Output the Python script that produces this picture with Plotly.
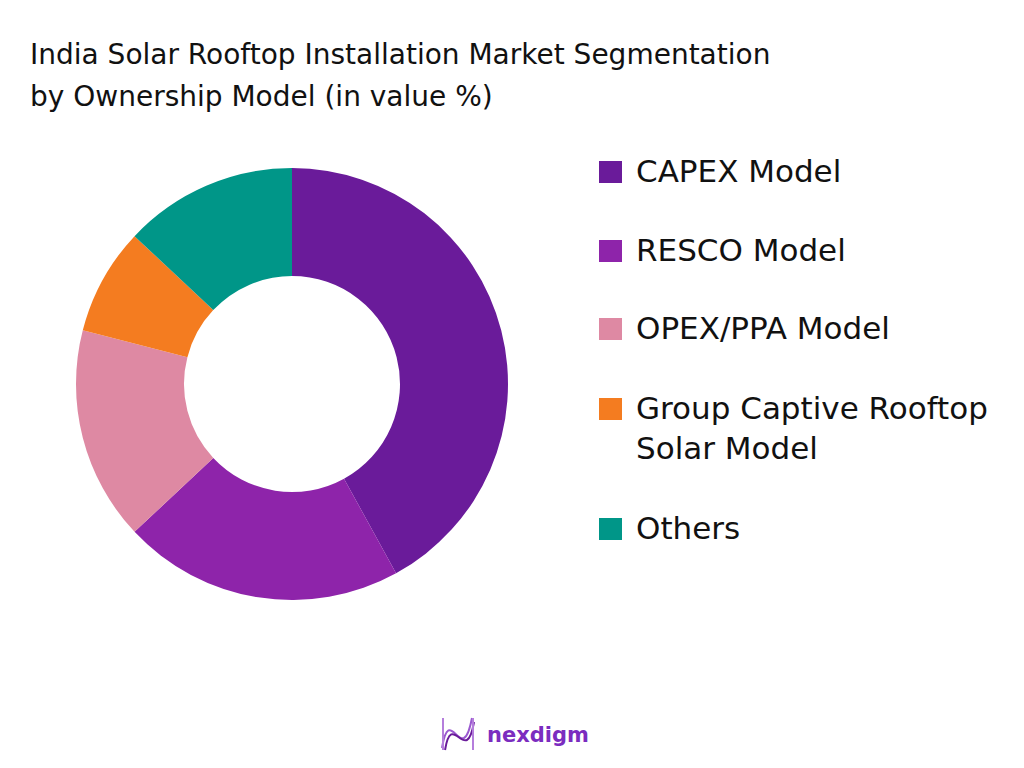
import plotly.graph_objects as go

# Ownership model shares (value %)
segments = ["CAPEX Model", "RESCO Model", "OPEX/PPA Model",
            "Group Captive Rooftop Solar Model", "Others"]
legend_labels = ["CAPEX Model", "RESCO Model", "OPEX/PPA Model",
                 "Group Captive Rooftop<br>Solar Model", "Others"]
shares = [42, 21, 16, 8, 13]
colors = ["#6a1b9a", "#8e24aa", "#de89a3", "#f47c20", "#009688"]

W, H = 1024, 768
OFF = 8  # page body margin pushes everything by 8px
FONT = "DejaVu Sans"


def px(x):
    return (x - OFF) / W


def py(y):
    return 1 - (y - OFF) / H


fig = go.Figure()

fig.add_trace(go.Pie(
    labels=segments,
    values=shares,
    marker=dict(colors=colors, line=dict(width=0)),
    hole=0.5,
    sort=False,
    direction="clockwise",
    rotation=0,
    textinfo="none",
    showlegend=False,
    domain=dict(x=[px(76), px(508)], y=[py(600), py(168)]),
))

# hand-made legend so square size and spacing match the picture
legend_y = [172, 251, 329, 409, 529]
shapes = []
annotations = []
for lab, col, yc in zip(legend_labels, colors, legend_y):
    shapes.append(dict(
        type="rect", xref="paper", yref="paper",
        x0=px(599), x1=px(622),
        y0=py(yc + 11), y1=py(yc - 11),
        fillcolor=col, line=dict(width=0),
    ))
    annotations.append(dict(
        text=lab, xref="paper", yref="paper",
        x=px(634), y=py(yc - 21),
        xanchor="left", yanchor="top", align="left", showarrow=False,
        font=dict(family=FONT, size=31, color="#111111"),
    ))

# title, two lines placed separately for the wider line gap
for line, yc in [("India Solar Rooftop Installation Market Segmentation", 55),
                 ("by Ownership Model (in value %)", 97)]:
    annotations.append(dict(
        text=line, xref="paper", yref="paper",
        x=px(28), y=py(yc), xanchor="left", yanchor="middle",
        showarrow=False, font=dict(family=FONT, size=28, color="#111111"),
    ))

# logo: small wave mark + wordmark
logo_paths = [
    ([(442, 748), (450, 700), (462, 770), (472, 718)], "#9b59d0"),
    ([(445, 750), (452, 708), (466, 768), (474, 722)], "#6a1b9a"),
]
for pts, col in logo_paths:
    (x0, y0), (x1, y1), (x2, y2), (x3, y3) = pts
    path = "M {:.4f},{:.4f} C {:.4f},{:.4f} {:.4f},{:.4f} {:.4f},{:.4f}".format(
        px(x0), py(y0), px(x1), py(y1), px(x2), py(y2), px(x3), py(y3))
    shapes.append(dict(
        type="path", xref="paper", yref="paper", path=path,
        line=dict(color=col, width=2),
    ))
for xv, col in [(443, "#b57edc"), (473, "#b57edc")]:
    shapes.append(dict(
        type="line", xref="paper", yref="paper",
        x0=px(xv), x1=px(xv), y0=py(750), y1=py(718),
        line=dict(color=col, width=2),
    ))

annotations.append(dict(
    text="<b>nexdigm</b>", xref="paper", yref="paper",
    x=px(485), y=py(735), xanchor="left", yanchor="middle",
    showarrow=False, font=dict(family=FONT, size=21, color="#7b2cbf"),
))

fig.update_layout(
    width=W, height=H,
    margin=dict(l=0, r=0, t=0, b=0),
    paper_bgcolor="white",
    plot_bgcolor="white",
    shapes=shapes,
    annotations=annotations,
)

fig.write_html("out.html")
